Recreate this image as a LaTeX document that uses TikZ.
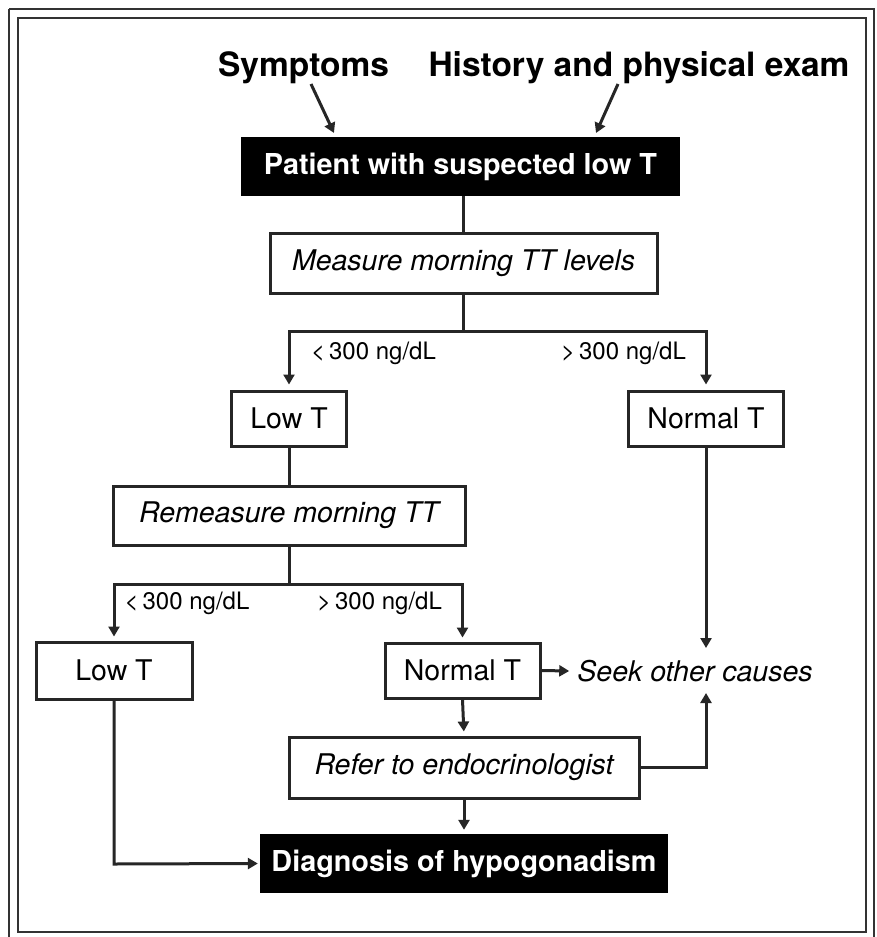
\documentclass[tikz,border=0pt]{standalone}
\usepackage{fontspec}
\setmainfont{TeX Gyre Heros}
\usetikzlibrary{arrows.meta}
\tikzset{
  ln/.style={draw=black!85, line width=3pt},
  arr/.style={ln, -{Triangle[length=10pt,width=11pt]}},
  wbox/.style={draw=black!85, line width=3pt, fill=white, inner sep=0pt, font=\fontsize{28.5}{30}\selectfont},
  bbox/.style={fill=black, text=white, inner sep=0pt, font=\fontsize{28.8}{30}\selectfont\bfseries},
  ttl/.style={inner sep=0pt, font=\fontsize{33.5}{35}\selectfont\bfseries},
  lbl/.style={inner sep=0pt, font=\fontsize{24}{26}\selectfont},
  frm/.style={draw=black!80, line width=1.6pt}
}
\begin{document}
\begin{tikzpicture}[x=1pt,y=-1pt]
\useasboundingbox (0,0) rectangle (876,937);
\fill[white] (0,0) rectangle (876,937);
% frames
\draw[frm] (9,9) -- (874,9) -- (874,950);
\draw[frm] (9,950) -- (9,9);
\draw[frm] (18,18) rectangle (866,932);

% titles
\node[ttl] (sym) at (303.5,68) {Symptoms};
\node[ttl] (hist) at (639,68) {History and physical exam};
\coordinate (symA) at (311,84);
\coordinate (symB) at (334,133);
\coordinate (histA) at (618,84);
\coordinate (histB) at (596,133);

% boxes
\node[bbox, minimum width=439pt, minimum height=59pt] (pat) at (460.5,166.5) {Patient with suspected low T};
\node[wbox, minimum width=387pt, minimum height=60pt] (meas) at (463.5,263) {\itshape Measure morning TT levels};
\node[wbox, minimum width=115pt, minimum height=55pt] (low1) at (289,418.5) {Low T};
\node[wbox, minimum width=155pt, minimum height=55pt] (norm1) at (706,418.5) {Normal T};
\node[wbox, minimum width=352pt, minimum height=59pt] (rem) at (289,515.5) {\itshape Remeasure morning TT};
\node[wbox, minimum width=156pt, minimum height=57pt] (low2) at (114,670.5) {Low T};
\node[wbox, minimum width=155pt, minimum height=55pt] (norm2) at (462.5,670.5) {Normal T};
\node[inner sep=0pt, font=\fontsize{28.5}{30}\selectfont\itshape] (seek) at (695,671) {Seek other causes};
\node[wbox, minimum width=350pt, minimum height=61pt] (ref) at (464,767.5) {\itshape Refer to endocrinologist};
\node[bbox, minimum width=408pt, minimum height=59pt] (diag) at (464,863.5) {Diagnosis of hypogonadism};

% labels
\node[lbl] (l1) at (373.5,353) {<\,300 ng/dL};
\node[lbl] (g1) at (623.5,353) {>\,300 ng/dL};
\node[lbl] (l2) at (187,603) {<\,300 ng/dL};
\node[lbl] (g2) at (379.5,603) {>\,300 ng/dL};

% helper coordinates
\coordinate (br1) at (463.5,331);
\coordinate (br2) at (289,584);
\coordinate (seekT) at (706,648);
\coordinate (seekB) at (706,693);
\coordinate (refR) at (706,767.5);
\coordinate (lowC) at (114,864);

% connectors
\draw[arr] (symA) -- (symB);
\draw[arr] (histA) -- (histB);
\draw[ln] (meas.north |- pat.south) -- (meas.north);
\draw[ln] (meas.south) -- (br1);
\draw[arr, shorten >=5pt] (br1) -| (low1.north);
\draw[arr, shorten >=5pt] (br1) -| (norm1.north);
\draw[ln] (low1.south) -- (rem.north);
\draw[ln] (rem.south) -- (br2);
\draw[arr, shorten >=4pt] (br2) -| (low2.north);
\draw[arr, shorten >=4pt] (br2) -| (norm2.north);
\draw[arr] (norm2.east) -- ([xshift=-8pt]seek.west);
\draw[arr] (norm1.south) -- (seekT);
\draw[arr] (ref.east) -- (refR) -- (seekB);
\draw[arr, shorten >=4pt] (norm2.south) -- (ref.north);
\draw[arr, shorten >=4pt] (ref.south) -- (diag.north);
\draw[arr] (low2.south) -- (lowC) -- ([xshift=-2pt]diag.west);
\end{tikzpicture}
\end{document}
